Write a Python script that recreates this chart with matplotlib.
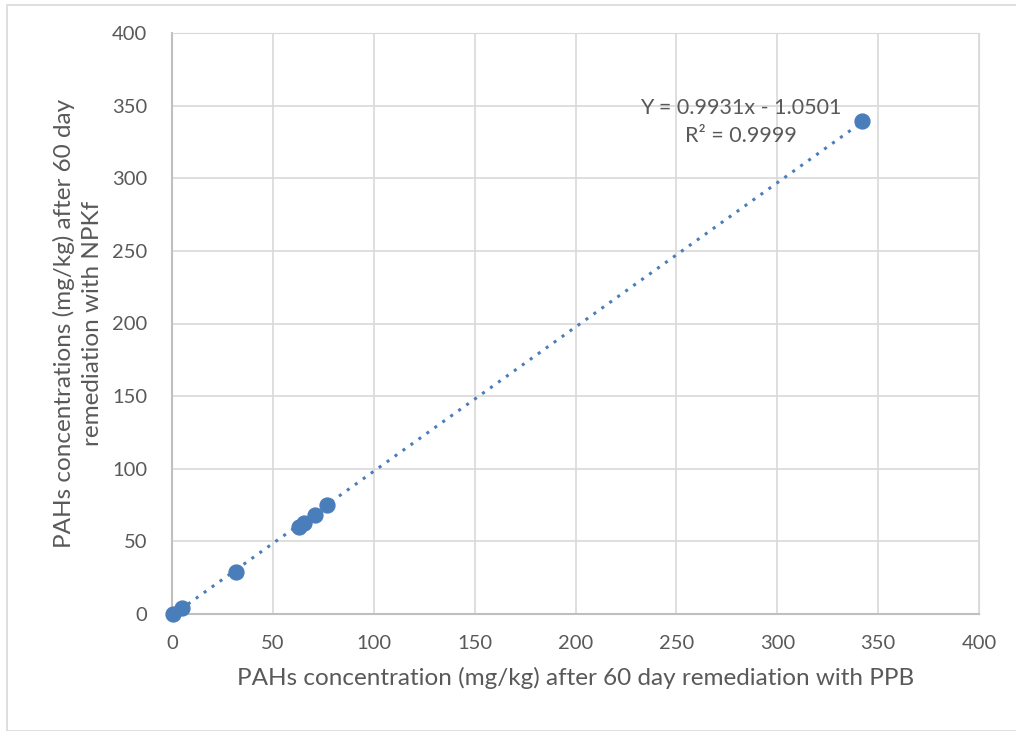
import matplotlib.pyplot as plt
import numpy as np
from matplotlib.patches import Rectangle

# PPB (x) vs NPKf (y) concentrations, mg/kg
ppb = [0.3, 5.0, 31.7, 63.0, 65.5, 70.9, 77.0, 342.0]
npkf = [0.3, 4.4, 29.1, 60.1, 62.4, 68.2, 75.0, 339.7]
slope = 0.9931
intercept = -1.0501
r2 = 0.9999
ticks = [0, 50, 100, 150, 200, 250, 300, 350, 400]

blue = "#4a7ebb"
grey_txt = "#595959"

plt.rcParams['font.family'] = ['Lato', 'DejaVu Sans']

fig = plt.figure(figsize=(10.16, 7.31), dpi=100)
fig.patches.append(Rectangle((7 / 1016, 0), 1.0, 1 - 5 / 731, transform=fig.transFigure,
                             fill=False, edgecolor="#d9d9d9", linewidth=1.2))
ax = fig.add_axes([172 / 1016, 1 - 614 / 731, (979 - 172) / 1016, (614 - 33) / 731])

ax.set_xlim(0, 400)
ax.set_ylim(0, 400)
ax.set_xticks(ticks)
ax.set_yticks(ticks)
ax.grid(True, color="#d9d9d9", linewidth=1.2)
ax.set_axisbelow(True)
for side in ["top", "right"]:
    ax.spines[side].set_color("#d9d9d9")
for side in ["left", "bottom"]:
    ax.spines[side].set_color("#bfbfbf")
    ax.spines[side].set_linewidth(1.5)
ax.tick_params(length=0, labelsize=14.5, labelcolor=grey_txt)
ax.tick_params(axis="y", pad=18)
ax.tick_params(axis="x", pad=15)

ax.scatter(ppb, npkf, s=115, color=blue, zorder=3, clip_on=False)

xs = np.array([0, max(ppb)])
ax.plot(xs, slope * xs + intercept, linestyle=(0, (1, 2.2)), color=blue, linewidth=2.2,
        zorder=2, clip_on=False)

ax.text(282, 339, f"Y = {slope}x - {abs(intercept):.4f}\nR² = {r2}", ha="center",
        va="center", fontsize=15.5, color=grey_txt, linespacing=1.5)

ax.set_xlabel("PAHs concentration (mg/kg) after 60 day remediation with PPB",
              fontsize=17.5, color=grey_txt, labelpad=11)
ax.set_ylabel("PAHs concentrations (mg/kg) after 60 day\nremediation with NPKf",
              fontsize=17.5, color=grey_txt, labelpad=6, linespacing=1.45)

fig.savefig("out.png", dpi=100)
